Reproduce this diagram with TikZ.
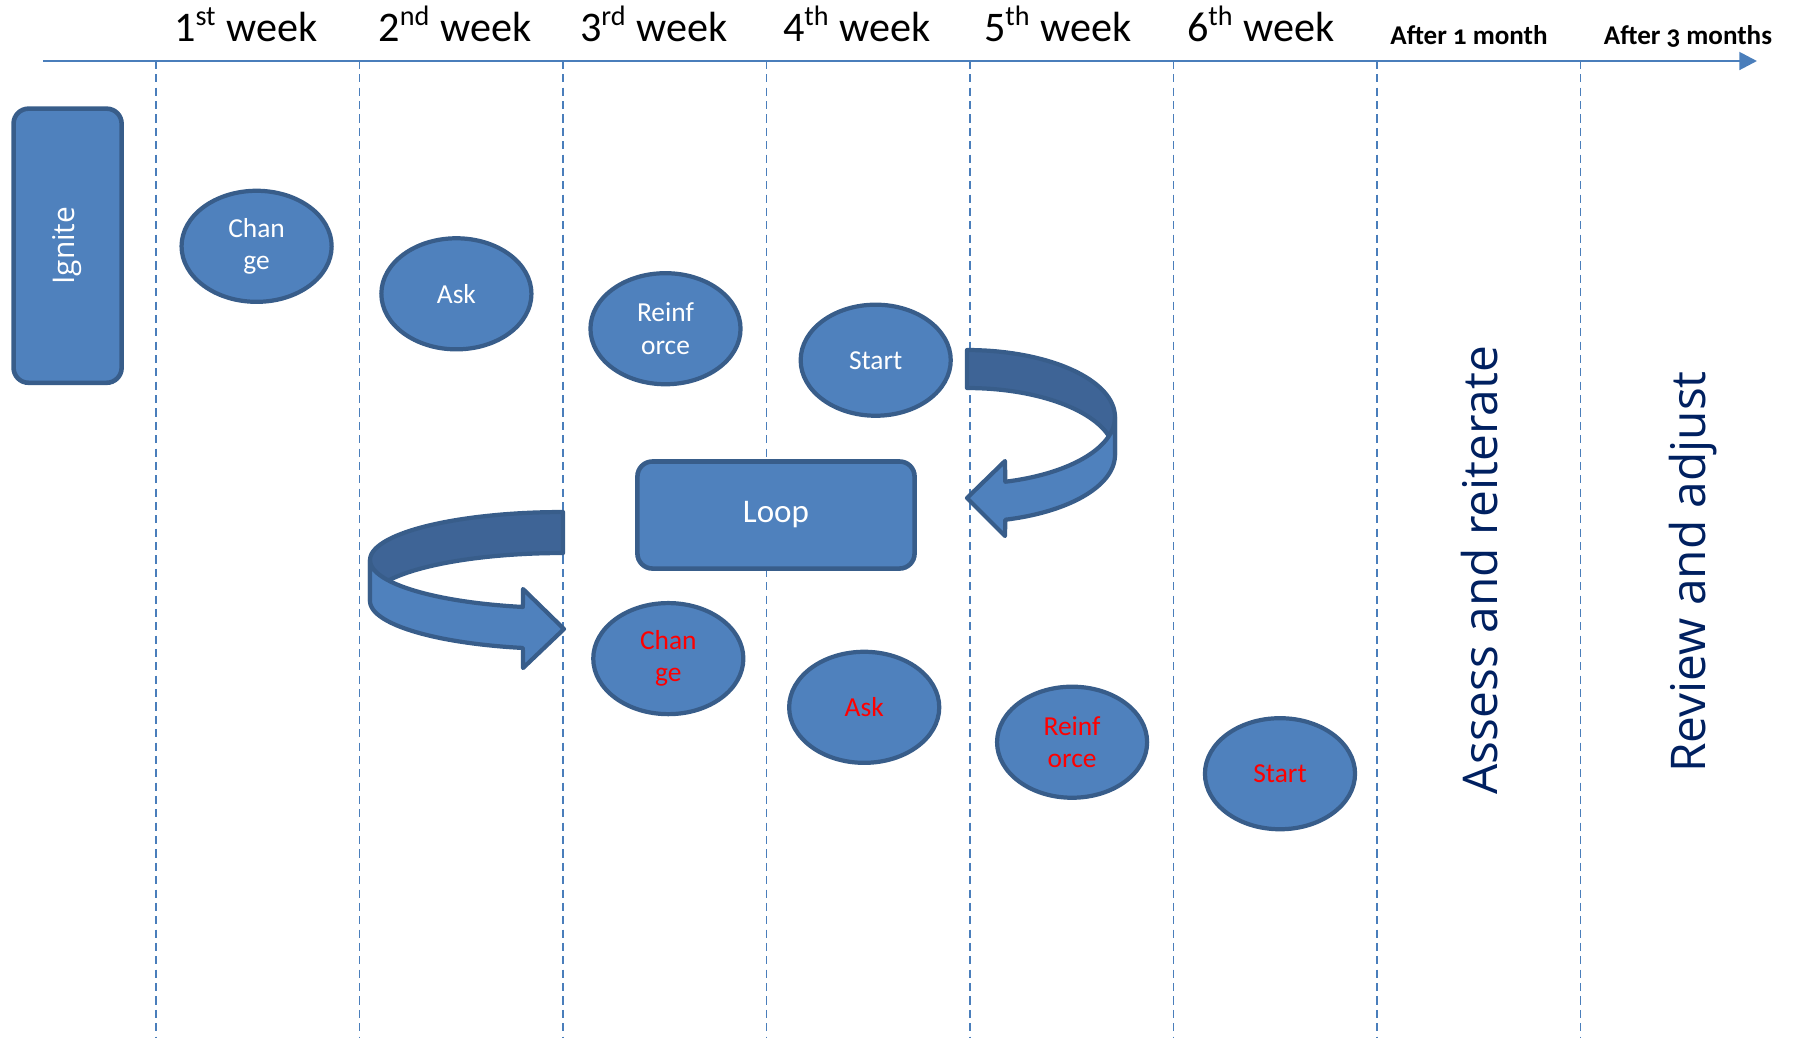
\documentclass[tikz,border=0pt]{standalone}
\usepackage{fontspec}
\setmainfont{Carlito}
\newfontfamily\segoe{Open Sans}
\newfontfamily\oldnum[Numbers=OldStyle]{Carlito}
\usetikzlibrary{shapes.geometric,arrows.meta}

\definecolor{fillblue}{RGB}{79,129,189}
\definecolor{edgeblue}{RGB}{56,93,138}
\definecolor{backblue}{RGB}{62,100,150}
\definecolor{lineblue}{RGB}{74,126,187}
\definecolor{navy}{RGB}{0,32,96}

\tikzset{
  stage/.style={ellipse, draw=edgeblue, fill=fillblue, line width=1.2pt,
    minimum width=1.50cm, minimum height=1.11cm, inner sep=0pt, align=center,
    text=white, font=\fontsize{7.8pt}{9.2pt}\selectfont},
  redo/.style={stage, text=red},
  block/.style={rectangle, rounded corners=0.15cm, draw=edgeblue, fill=fillblue,
    line width=1.3pt, text=white},
  weeklabel/.style={anchor=base, font=\fontsize{12pt}{14pt}\selectfont},
  monthlabel/.style={anchor=base, font=\oldnum\bfseries\fontsize{7.7pt}{9pt}\selectfont},
  phase/.style={anchor=base, rotate=90, text=navy, font=\segoe\fontsize{13.6pt}{16pt}\selectfont},
  ribbon/.style={draw=edgeblue, line width=1.2pt, line join=round},
}

\begin{document}
\begin{tikzpicture}[x=0.01cm, y=-0.01cm]
    \useasboundingbox (0,0) rectangle (1796,1038);

    % Time axis and column borders
    \coordinate (axisL) at (43,61);
    \coordinate (axisR) at (1757,61);
    \foreach \i in {0,...,7}
        \draw[lineblue, line width=0.55pt, dash pattern=on 2.3pt off 1.5pt]
            ({156+203.5*\i},61) -- ({156+203.5*\i},1038);
    \draw[lineblue, line width=0.8pt, -{Triangle[length=5pt,width=5pt]}] (axisL) -- (axisR);

    % Column headings
    \node[weeklabel] (wk1) at (246,41) {1\textsuperscript{st} week};
    \node[weeklabel] (wk2) at (455,41) {2\textsuperscript{nd} week};
    \node[weeklabel] (wk3) at (654,41) {3\textsuperscript{rd} week};
    \node[weeklabel] (wk4) at (857,41) {4\textsuperscript{th} week};
    \node[weeklabel] (wk5) at (1058,41) {5\textsuperscript{th} week};
    \node[weeklabel] (wk6) at (1261,41) {6\textsuperscript{th} week};
    \node[monthlabel] (mon1) at (1469,44) {After 1 month};
    \node[monthlabel] (mon3) at (1688,44) {After 3 months};

    % Start block and loop block
    \node[block, rotate=90, minimum width=2.74cm, minimum height=1.08cm,
          font=\segoe\fontsize{8.5pt}{10pt}\selectfont] (ignite) at (67.6,245.7) {Ignite};
    \node[block, minimum width=2.77cm, minimum height=1.07cm,
          font=\fontsize{9.4pt}{11pt}\selectfont] (loop) at (776,515) {Loop};

    % First round
    \node[stage] (chg1) at (256.6,246.3) {Chan\\ge};
    \node[stage] (ask1) at (456.4,293.8) {Ask};
    \node[stage] (rnf1) at (665.5,328.7) {Reinf\\orce};
    \node[stage] (str1) at (875.7,360.2) {Start};

    % Second round
    \node[redo] (chg2) at (668.3,658.6) {Chan\\ge};
    \node[redo] (ask2) at (864.2,707.3) {Ask};
    \node[redo] (rnf2) at (1072.1,742.2) {Reinf\\orce};
    \node[redo] (str2) at (1280,773.7) {Start};

    % Curved arrow into the loop
    \filldraw[ribbon, fill=backblue]
        plot[domain=-90:0, samples=40] ({967+148*cos(\x)},{417+67*sin(\x)})
        -- plot[domain=0:-90, samples=40] ({967+148*cos(\x)},{455+67*sin(\x)}) -- cycle;
    \filldraw[ribbon, fill=fillblue]
        plot[domain=0:75, samples=40] ({967+148*cos(\x)},{417+67*sin(\x)})
        -- (1005,461) -- (967,498) -- (1005,536)
        -- plot[domain=75:0, samples=40] ({967+148*cos(\x)},{455+67*sin(\x)}) -- cycle;

    % Curved arrow out of the loop
    \filldraw[ribbon, fill=backblue]
        plot[domain=-90:0, samples=40] ({563-193*cos(\x)},{560+48*sin(\x)})
        -- plot[domain=0:-90, samples=40] ({563-193*cos(\x)},{601+48*sin(\x)}) -- cycle;
    \filldraw[ribbon, fill=fillblue]
        plot[domain=0:78, samples=40] ({563-193*cos(\x)},{560+48*sin(\x)})
        -- (523,589) -- (564,629) -- (523,668)
        -- plot[domain=78:0, samples=40] ({563-193*cos(\x)},{601+48*sin(\x)}) -- cycle;

    % Later phases
    \node[phase] (assess) at (1497,570) {Assess and reiterate};
    \node[phase] (review) at (1705,572) {Review and adjust};

\end{tikzpicture}
\end{document}
